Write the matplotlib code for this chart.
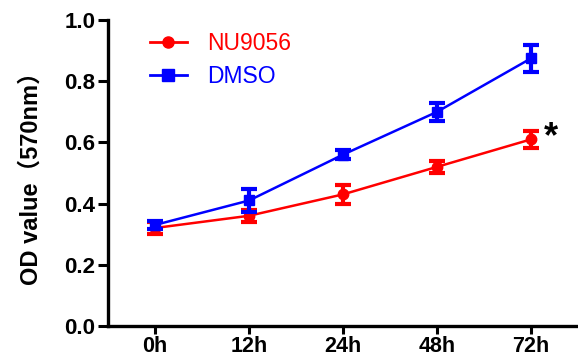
import matplotlib
matplotlib.use("Agg")
import matplotlib.pyplot as plt
from matplotlib.lines import Line2D
import numpy as np

times = ["0h", "12h", "24h", "48h", "72h"]
nu9056 = [0.32, 0.36, 0.43, 0.52, 0.61]
nu9056_err = [0.02, 0.02, 0.03, 0.02, 0.027]
dmso = [0.33, 0.41, 0.56, 0.70, 0.875]
dmso_err = [0.012, 0.038, 0.015, 0.03, 0.045]

RED = "#ff0000"
BLUE = "#0000ff"

plt.rcParams["font.family"] = ["Liberation Sans", "Noto Sans CJK SC", "DejaVu Sans"]

fig = plt.figure(figsize=(5.78, 3.6), dpi=100)
ax = fig.add_axes([0.187, 0.095, 0.813, 0.849])

x = np.arange(len(times))
ax.errorbar(x, nu9056, yerr=nu9056_err, color=RED, marker="o", markersize=7.5,
            linewidth=1.8, elinewidth=3, capsize=5.5, capthick=3, zorder=3)
ax.errorbar(x, dmso, yerr=dmso_err, color=BLUE, marker="s", markersize=7.5,
            linewidth=1.8, elinewidth=3, capsize=5.5, capthick=3, zorder=4)

ax.text(x[-1] + 0.14, nu9056[-1] + 0.005, "*", fontsize=26, fontweight="bold",
        ha="left", va="center")

ax.set_xlim(-0.5, 4.5)
ax.set_ylim(0, 1.0)
ax.set_xticks(x, times)
ax.set_yticks([0.0, 0.2, 0.4, 0.6, 0.8, 1.0])
ax.yaxis.set_major_formatter(matplotlib.ticker.FormatStrFormatter("%.1f"))
ax.tick_params(width=2.2, length=7, labelsize=16, pad=2)
ax.tick_params(axis="x", length=6, labelsize=15.5, pad=1)
for lbl in ax.get_xticklabels() + ax.get_yticklabels():
    lbl.set_fontweight("bold")

for side in ["top", "right"]:
    ax.spines[side].set_visible(False)
for side in ["left", "bottom"]:
    ax.spines[side].set_linewidth(2.4)

ax.set_ylabel("OD value（570nm）", fontsize=17, fontweight="bold", labelpad=16)

handles = [
    Line2D([], [], color=RED, marker="o", markersize=8, linewidth=2, label="NU9056"),
    Line2D([], [], color=BLUE, marker="s", markersize=8, linewidth=2, label="DMSO"),
]
leg = ax.legend(handles=handles, loc="upper left", bbox_to_anchor=(0.089, 0.962),
                frameon=False, borderaxespad=0, borderpad=0, fontsize=16.5,
                handlelength=1.6, handletextpad=0.9, labelspacing=0.45)
for text, color in zip(leg.get_texts(), [RED, BLUE]):
    text.set_color(color)

fig.savefig("out.png", dpi=100)
